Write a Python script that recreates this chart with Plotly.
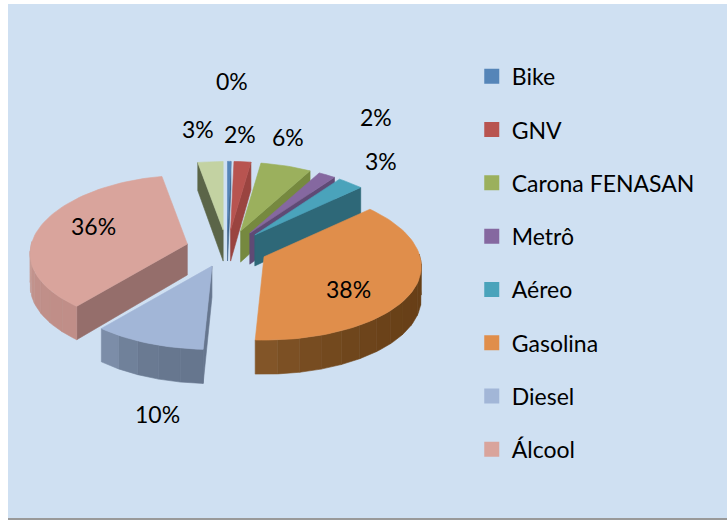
import math
import plotly.graph_objects as go

# ---- data (clockwise from 12 o'clock) ----
categories = ["Bike", "GNV", "Carona FENASAN", "Metrô", "Aéreo", "Gasolina", "Diesel", "Álcool", ""]
values = [0.4, 2, 6, 2, 3, 37.6, 10.4, 36, 3]
value_labels = ["0%", "2%", "6%", "2%", "3%", "38%", "10%", "36%", "3%"]

# ---- style ----
top_colors = ["#5585b8", "#b85450", "#9bb05d", "#8568a0", "#4aa3bb", "#e08e4b", "#a2b6d7", "#d9a49c", "#c3d2a2"]
wall_colors = ["#3f648c", "#9a4440", "#76893f", "#5f4a75", "#2e6878", "#673f17", "#66768e", "#956e6b", "#5b6548"]
arc_light = ["#3f648c", "#9a4440", "#76893f", "#5f4a75", "#2e6878", "#85582a", "#8496b2", "#c9a099", "#5b6548"]
arc_dark = ["#3f648c", "#9a4440", "#76893f", "#5f4a75", "#2e6878", "#673f17", "#66768e", "#c08e88", "#5b6548"]
label_xy = [(232, 81), (240, 134), (288, 137), (376, 117), (381, 161), (348, 289), (157, 414), (93, 226), (198, 129)]
FONT = "Lato"
PANEL = "#cfe0f2"

# ---- projection of the tilted, exploded pie onto the panel ----
CX, CY = 227.0, 248.7
A, B, PX, PY = 156.0, 76.0, 0.13, 0.097   # half axes and perspective
PULL_X, PULL_Y = 41.0, 18.7
DEPTH, DEPTH_P = 31.0, 0.1


def rim(theta):
    c = math.cos(theta)
    return A * math.sin(theta) * (1 - PX * c), -B * c * (1 - PY * c)


def depth(theta):
    return DEPTH * (1 - DEPTH_P * math.cos(theta))


def mix(c1, c2, t):
    a = [int(c1[i:i + 2], 16) for i in (1, 3, 5)]
    b = [int(c2[i:i + 2], 16) for i in (1, 3, 5)]
    return "rgb(%d,%d,%d)" % tuple(round(u + (v - u) * t) for u, v in zip(a, b))


def poly(xs, ys, color, group):
    return go.Scatter(x=xs, y=ys, mode="lines", fill="toself", fillcolor=color,
                      line=dict(color=color, width=0.6), hoverinfo="skip",
                      showlegend=False, legendgroup=group)


fig = go.Figure()

# legend entries
for name, color in zip(categories, top_colors):
    if name:
        fig.add_trace(go.Scatter(x=[None], y=[None], mode="markers", name=name, legendgroup=name,
                                 marker=dict(symbol="square", size=15, color=color)))

total = sum(values)
spans = []
acc = 0.0
for v in values:
    spans.append((acc / total * 2 * math.pi, (acc + v) / total * 2 * math.pi))
    acc += v

# far slices first, nearest last
order = sorted(range(len(values)), key=lambda i: -math.cos(sum(spans[i]) / 2))
for i in order:
    t0, t1 = spans[i]
    mid = (t0 + t1) / 2
    ax = CX + PULL_X * math.sin(mid)
    ay = CY - PULL_Y * math.cos(mid)
    n = max(2, int((t1 - t0) / math.radians(2)))
    thetas = [t0 + (t1 - t0) * k / n for k in range(n + 1)]
    rx = [ax + rim(t)[0] for t in thetas]
    ry = [ay + rim(t)[1] for t in thetas]
    group = categories[i]

    # radial walls that face the viewer
    mx, my = rim(mid)
    for t in (t0, t1):
        ex, ey = rim(t)
        inner = ex * my - ey * mx
        down = ex * 1.0
        if inner * down < 0:
            px, py = ax + ex, ay + ey
            fig.add_trace(poly([ax, px, px, ax, ax], [ay, py, py + depth(t), ay + DEPTH, ay],
                               wall_colors[i], group))

    # outer wall, in shaded bands
    lo, hi = max(t0, math.radians(88)), min(t1, math.radians(272))
    if hi > lo:
        bands = max(1, int((hi - lo) / math.radians(7)))
        for b in range(bands):
            u0 = lo + (hi - lo) * b / bands
            u1 = lo + (hi - lo) * (b + 1) / bands
            sub = [u0 + (u1 - u0) * k / 4 for k in range(5)]
            xs = [ax + rim(u)[0] for u in sub]
            top = [ay + rim(u)[1] for u in sub]
            bottom = [ay + rim(u)[1] + depth(u) for u in sub]
            # the lit part of each wall sits at its clockwise end
            shade = mix(arc_dark[i], arc_light[i], ((b + 0.5) / bands) ** 3)
            fig.add_trace(poly(xs + xs[::-1] + [xs[0]], top + bottom[::-1] + [top[0]], shade, group))

    # top face
    fig.add_trace(poly([ax] + rx + [ax], [ay] + ry + [ay], top_colors[i], group))

annotations = [dict(x=x, y=y, text=t, showarrow=False, xref="x", yref="y",
                    font=dict(family=FONT, size=23, color="#000000"))
               for (x, y), t in zip(label_xy, value_labels)]

fig.update_layout(
    width=727, height=520, autosize=False,
    margin=dict(l=8, r=0, t=4, b=1),
    paper_bgcolor="#ffffff", plot_bgcolor=PANEL,
    xaxis=dict(range=[8, 727], visible=False, fixedrange=True),
    yaxis=dict(range=[519, 4], visible=False, fixedrange=True),
    annotations=annotations,
    shapes=[dict(type="line", xref="paper", yref="paper", x0=0, x1=1, y0=0, y1=0,
                 line=dict(color="#999999", width=2))],
    legend=dict(x=0.645, xanchor="left", y=0.9014, yanchor="top",
                font=dict(family=FONT, size=23, color="#000000"),
                bgcolor="rgba(0,0,0,0)", tracegroupgap=20.4, itemsizing="trace",
                traceorder="grouped", itemclick=False, itemdoubleclick=False),
)
fig.write_html("out.html", config={"displayModeBar": False},
               post_script="document.body.style.margin='0';document.body.style.overflow='hidden';")
